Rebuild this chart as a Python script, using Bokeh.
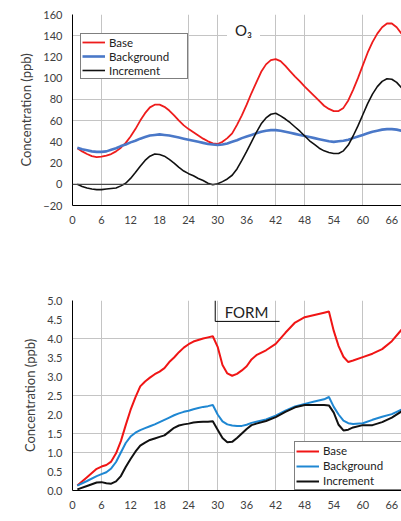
from bokeh.plotting import figure
from bokeh.layouts import column
from bokeh.models import (FixedTicker, Legend, LegendItem, Label, Span,
                          Range1d, NumeralTickFormatter)
from bokeh.embed import file_html
from bokeh.resources import INLINE

# ---------------- O3 (ppb), hourly ----------------
o3_hours = list(range(1, 69))
o3_base = [34, 31, 28.5, 26.5, 25.5, 26, 27, 28.5, 31, 34.5, 39, 45, 52, 60, 67,
           72.5, 75, 75, 73, 69.5, 65, 60, 55.5, 52, 49, 46, 43, 40.5, 38.5, 38,
           40, 43.5, 48, 56, 65, 75, 86, 96, 106, 113, 117, 118, 116, 111.5,
           106.5, 101.5, 97, 92, 87.5, 83, 78.5, 74, 71, 69, 69, 72, 79, 89, 100,
           112, 124, 134, 142, 148, 151.5, 151.5, 148, 142]
o3_background = [34.5, 33, 32, 31, 30.5, 30.5, 31, 32.5, 34, 36, 37.5, 39.5, 41,
                 43, 44.5, 46, 46.5, 47, 46.5, 46, 45, 44, 43, 42, 41, 40, 39, 38,
                 37.5, 37, 37.5, 38.5, 40, 41.5, 43.5, 45, 46.5, 48, 49.5, 50.5,
                 51, 51, 50.5, 49.5, 48.5, 47.5, 46.5, 45.5, 44.5, 43.5, 42.5,
                 41.5, 40.5, 40, 40.5, 41, 42, 43.5, 45, 46.5, 48, 49.5, 50.5,
                 51.5, 52, 52, 51.5, 50.5]
o3_increment = [0, -2, -3.5, -4.5, -5, -5, -4.5, -4, -3.5, -1.5, 1, 5.5, 11, 17,
                22.5, 26.5, 28.5, 28, 26.5, 23.5, 20, 16, 12.5, 10, 8, 5.5, 3.5,
                1, -0.5, 0.5, 2.5, 5, 8.5, 14.5, 22.5, 31, 40, 49, 57, 62.5, 66,
                67, 64.5, 61.5, 58, 54, 50, 45.5, 41, 37.5, 34, 31.5, 30, 29, 29,
                31.5, 37, 45.5, 55, 65.5, 76, 85, 92, 97, 99.5, 99, 96, 91]

# ---------------- FORM (ppb) ----------------
form_hours = [1, 3, 5, 6, 7, 8, 9, 10, 11, 12, 13, 14, 15, 16, 17, 18, 19, 20,
              21, 22, 23, 24, 25, 26, 27, 28, 29, 30, 31, 32, 33, 34, 35, 36, 37,
              38, 40, 42, 44, 46, 48, 50, 52, 53, 54, 55, 56, 57, 58, 60, 62, 64,
              66, 68]
form_base = [0.13, 0.35, 0.57, 0.63, 0.67, 0.76, 0.98, 1.30, 1.72, 2.12, 2.45,
             2.74, 2.87, 2.97, 3.06, 3.13, 3.22, 3.38, 3.50, 3.64, 3.76, 3.85,
             3.92, 3.96, 4.00, 4.03, 4.06, 3.78, 3.30, 3.08, 3.02, 3.07, 3.16,
             3.27, 3.45, 3.56, 3.69, 3.86, 4.15, 4.42, 4.56, 4.62, 4.68, 4.71,
             4.20, 3.80, 3.52, 3.38, 3.42, 3.51, 3.60, 3.72, 3.93, 4.23]
form_background = [0.13, 0.25, 0.38, 0.43, 0.48, 0.58, 0.75, 1.00, 1.25, 1.42,
                   1.52, 1.59, 1.64, 1.69, 1.74, 1.80, 1.86, 1.92, 1.98, 2.03,
                   2.07, 2.10, 2.14, 2.17, 2.20, 2.22, 2.25, 2.00, 1.82, 1.74,
                   1.71, 1.70, 1.70, 1.73, 1.78, 1.81, 1.87, 1.97, 2.10, 2.21,
                   2.28, 2.34, 2.40, 2.46, 2.20, 2.00, 1.84, 1.77, 1.75, 1.77,
                   1.86, 1.94, 2.01, 2.13]
form_increment = [0.03, 0.12, 0.21, 0.22, 0.19, 0.18, 0.24, 0.38, 0.62, 0.83,
                  1.02, 1.18, 1.26, 1.33, 1.37, 1.41, 1.45, 1.55, 1.65, 1.71,
                  1.74, 1.76, 1.79, 1.80, 1.81, 1.81, 1.82, 1.60, 1.38, 1.27,
                  1.28, 1.38, 1.50, 1.62, 1.72, 1.76, 1.83, 1.93, 2.07, 2.19,
                  2.25, 2.25, 2.25, 2.24, 2.05, 1.73, 1.58, 1.60, 1.66, 1.72,
                  1.72, 1.80, 1.92, 2.08]

hour_ticks = [0, 6, 12, 18, 24, 30, 36, 42, 48, 54, 60, 66]
o3_ticks = [-20, 0, 20, 40, 60, 80, 100, 120, 140, 160]
form_ticks = [0.0, 0.5, 1.0, 1.5, 2.0, 2.5, 3.0, 3.5, 4.0, 4.5, 5.0]
series_names = ["Base", "Background", "Increment"]

FONT = "Lato"
TEXT = "#404040"
GRID = "#c4c4c4"


def make_axes(p, yticks, xgrid, ygrid):
    p.outline_line_color = None
    p.background_fill_color = "white"
    p.border_fill_color = "white"
    for ax in (p.xaxis[0], p.yaxis[0]):
        ax.axis_line_color = "black"
        ax.axis_line_width = 1
        ax.major_tick_in = 0
        ax.major_tick_out = 0
        ax.minor_tick_line_color = None
        ax.major_label_text_font = FONT
        ax.major_label_text_font_size = "11px"
        ax.major_label_text_color = TEXT
        ax.major_label_standoff = 10
        ax.axis_label_text_font = FONT
        ax.axis_label_text_font_size = "13px"
        ax.axis_label_text_font_style = "normal"
        ax.axis_label_text_color = TEXT
    p.xaxis.ticker = FixedTicker(ticks=hour_ticks)
    p.yaxis.ticker = FixedTicker(ticks=yticks)
    p.yaxis.axis_label = "Concentration (ppb)"
    p.yaxis.axis_label_standoff = 6
    p.xgrid.ticker = FixedTicker(ticks=xgrid)
    p.ygrid.ticker = FixedTicker(ticks=ygrid)
    for g in (p.xgrid[0], p.ygrid[0]):
        g.grid_line_color = GRID
        g.grid_line_width = 1


def make_legend(renderers, loc, label_width, label_height):
    items = [LegendItem(label=n, renderers=[r]) for n, r in zip(series_names, renderers)]
    return Legend(items=items, location=loc, padding=1, margin=0, spacing=0,
                  glyph_width=23, glyph_height=14, label_height=label_height,
                  label_width=label_width, label_standoff=4,
                  label_text_font=FONT, label_text_font_size="11.5px",
                  label_text_color="#222222",
                  border_line_color="black", border_line_width=1,
                  background_fill_color="white", background_fill_alpha=1.0)


# ---------- O3 panel ----------
p1 = figure(width=401, height=258, output_backend="svg", toolbar_location=None,
            x_range=Range1d(0, 68), y_range=Range1d(-20, 160),
            min_border_left=72, min_border_right=0, min_border_top=14,
            min_border_bottom=53)
make_axes(p1, o3_ticks, [6, 24, 30, 42, 48, 60], [60, 80, 140])
p1.add_layout(Span(location=0, dimension="width", line_color="#4a4a4a", line_width=1.2))

r1 = p1.line(o3_hours, o3_base, line_color="#ee1c1c", line_width=1.8)
r2 = p1.line(o3_hours, o3_background, line_color="#4a78c8", line_width=2.6)
r3 = p1.line(o3_hours, o3_increment, line_color="#111111", line_width=1.6)
p1.add_layout(make_legend([r1, r2, r3], (8, 126), 77, 14))

p1.add_layout(Label(x=171, y=176, x_units="screen", y_units="screen", text="O₃",
                    text_font=FONT, text_font_size="15px", text_color="#222222",
                    text_align="center", text_baseline="middle",
                    background_fill_color="white", padding=8))
p1.add_layout(Label(x=173.5, y=-37, x_units="screen", y_units="screen",
                    text="Time (h)", text_font=FONT, text_font_size="13px",
                    text_color=TEXT, text_align="center", text_baseline="middle"))

# ---------- FORM panel ----------
p2 = figure(width=401, height=263, output_backend="svg", toolbar_location=None,
            x_range=Range1d(0, 68), y_range=Range1d(0, 5),
            min_border_left=72, min_border_right=0, min_border_top=42,
            min_border_bottom=31)
make_axes(p2, form_ticks, [6, 24, 30, 42, 48, 60], [1.0, 1.5, 2.5, 4.0])
p2.yaxis.formatter = NumeralTickFormatter(format="0.0")

q1 = p2.line(form_hours, form_base, line_color="#f01515", line_width=2)
q2 = p2.line(form_hours, form_background, line_color="#1f87d2", line_width=2)
q3 = p2.line(form_hours, form_increment, line_color="#111111", line_width=2)
p2.add_layout(make_legend([q1, q2, q3], (222, 0), 82, 15))

# title box: left and bottom edges under the "FORM" caption
p2.line([29.5, 29.5, 42.8], [5.0, 4.45, 4.45], line_color="black", line_width=1)
p2.add_layout(Label(x=174, y=179, x_units="screen", y_units="screen", text="FORM",
                    text_font=FONT, text_font_size="15px", text_color="#222222",
                    text_align="center", text_baseline="middle"))

layout = column(p1, p2, spacing=0)
open("out.html", "w").write(file_html(layout, INLINE))
